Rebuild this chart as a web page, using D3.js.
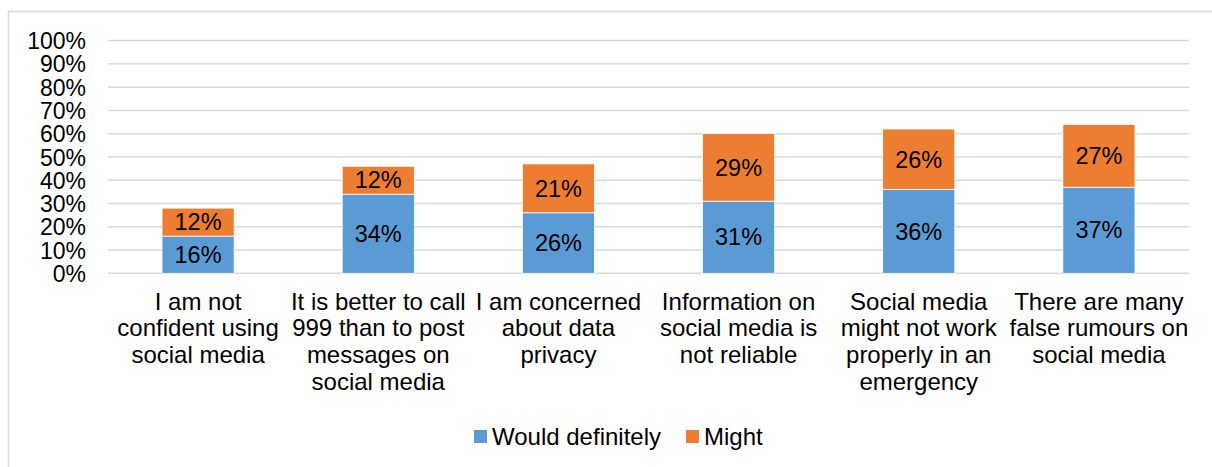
<!DOCTYPE html>
<html>
<head>
<meta charset="utf-8">
<script src="https://cdn.jsdelivr.net/npm/d3@7"></script>
<style>
  html, body { margin: 0; padding: 0; background: #fff; }
  svg text { font-family: "Liberation Sans", Arial, sans-serif; fill: #000; }
</style>
</head>
<body>
<svg id="chart" width="1212" height="467"></svg>
<script>
// Reasons for not using social media in an emergency
const categories = [
  ["I am not", "confident using", "social media"],
  ["It is better to call", "999 than to post", "messages on", "social media"],
  ["I am concerned", "about data", "privacy"],
  ["Information on", "social media is", "not reliable"],
  ["Social media", "might not work", "properly in an", "emergency"],
  ["There are many", "false rumours on", "social media"]
];
const seriesNames = ["Would definitely", "Might"];
const wouldDefinitely = [16, 34, 26, 31, 36, 37];
const might = [12, 12, 21, 29, 26, 27];
const yTicks = [0, 10, 20, 30, 40, 50, 60, 70, 80, 90, 100];
const colors = ["#5B9BD5", "#ED7D31"];

const svg = d3.select("#chart");
const tickFont = 23;
const labelFont = 23.5;
const catFont = 24;

// Outer chart frame
svg.append("rect")
  .attr("x", 8.5).attr("y", 11.5)
  .attr("width", 1250).attr("height", 500)
  .attr("fill", "none").attr("stroke", "#D9D9D9").attr("stroke-width", 1.5);

const x = d3.scaleBand()
  .domain(d3.range(categories.length))
  .range([108, 1189])
  .paddingInner(0.6).paddingOuter(0.3);

const y = d3.scaleLinear().domain([0, 100]).range([273.3, 40.6]);

// Gridlines
svg.append("g").selectAll("line").data(yTicks).join("line")
  .attr("x1", 108).attr("x2", 1189)
  .attr("y1", d => y(d)).attr("y2", d => y(d))
  .attr("stroke", "#D9D9D9").attr("stroke-width", 1.5);

// Y axis labels
const yAxis = d3.axisLeft(y).tickValues(yTicks).tickFormat(d => d + "%").tickSize(0).tickPadding(0);
const yg = svg.append("g").attr("transform", "translate(86,0)").call(yAxis);
yg.select(".domain").remove();
yg.selectAll("text")
  .style("font-family", '"Liberation Sans", Arial, sans-serif')
  .style("font-size", tickFont + "px").attr("fill", "#000").attr("dy", "0.35em");

// Stacked data
const rows = wouldDefinitely.map((v, i) => ({ i, "Would definitely": v, "Might": might[i] }));
const stacked = d3.stack().keys(seriesNames)(rows);

const layers = svg.append("g").selectAll("g").data(stacked).join("g")
  .attr("fill", (d, k) => colors[k]);

layers.selectAll("rect").data(d => d).join("rect")
  .attr("x", d => x(d.data.i))
  .attr("width", x.bandwidth())
  .attr("y", d => y(d[1]))
  .attr("height", d => y(d[0]) - y(d[1]))
  .attr("stroke", "#fff").attr("stroke-width", 0.75);

// Value labels
layers.selectAll("text").data(d => d).join("text")
  .attr("x", d => x(d.data.i) + x.bandwidth() / 2)
  .attr("y", d => (y(d[0]) + y(d[1])) / 2)
  .attr("dy", "0.35em")
  .attr("text-anchor", "middle")
  .style("font-size", labelFont + "px")
  .text(d => (d[1] - d[0]) + "%");

// Category labels
const catG = svg.append("g");
categories.forEach((lines, i) => {
  const t = catG.append("text")
    .attr("text-anchor", "middle")
    .attr("x", x(i) + x.bandwidth() / 2)
    .attr("y", 309.5)
    .style("font-size", catFont + "px");
  lines.forEach((ln, j) => {
    t.append("tspan")
      .attr("x", x(i) + x.bandwidth() / 2)
      .attr("dy", j === 0 ? 0 : 26.8)
      .text(ln);
  });
});

// Legend
const legendItems = [
  { name: seriesNames[0], color: colors[0], x: 474 },
  { name: seriesNames[1], color: colors[1], x: 686 }
];
const lg = svg.append("g");
legendItems.forEach(it => {
  lg.append("rect").attr("x", it.x).attr("y", 430).attr("width", 13).attr("height", 13).attr("fill", it.color);
  lg.append("text").attr("x", it.x + 18).attr("y", 436.5).attr("dy", "0.35em")
    .style("font-size", catFont + "px").text(it.name);
});
</script>
</body>
</html>
